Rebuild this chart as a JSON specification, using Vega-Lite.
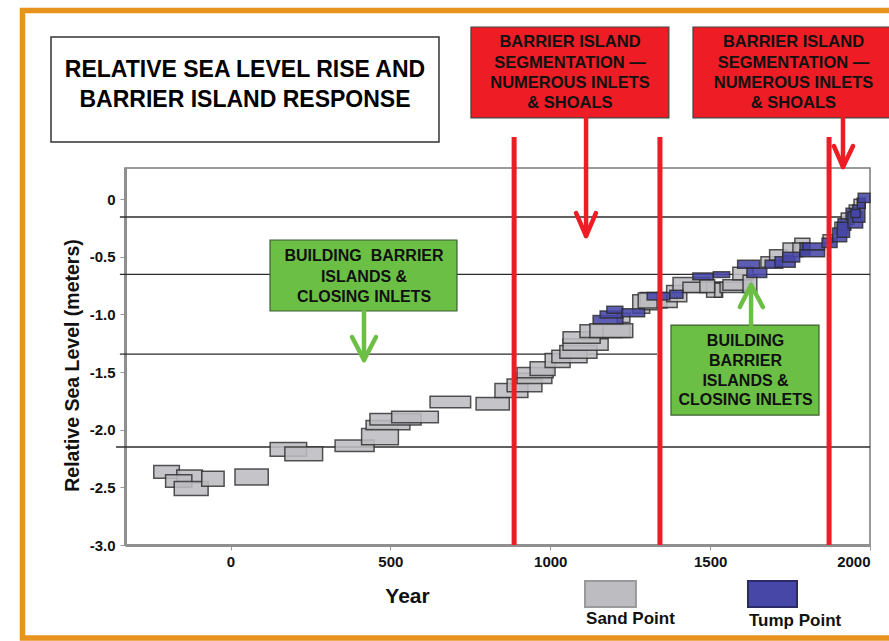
{
  "$schema": "https://vega.github.io/schema/vega-lite/v6.json",
  "width": 745,
  "height": 377,
  "autosize": {"type": "none"},
  "padding": {"left": 125, "top": 168, "right": 19, "bottom": 96},
  "background": "white",
  "config": {"view": {"stroke": "#7a7a7a", "strokeWidth": 1.5}, "font": "Liberation Sans"},
  "datasets": {
    "pts": [
      {"x": -240, "x2": -160, "y": -2.42, "y2": -2.31, "type": "Sand Point"},
      {"x": -168, "x2": -88, "y": -2.46, "y2": -2.35, "type": "Sand Point"},
      {"x": -203, "x2": -121, "y": -2.50, "y2": -2.39, "type": "Sand Point"},
      {"x": -176, "x2": -70, "y": -2.57, "y2": -2.45, "type": "Sand Point"},
      {"x": -90, "x2": -20, "y": -2.49, "y2": -2.36, "type": "Sand Point"},
      {"x": 14, "x2": 118, "y": -2.48, "y2": -2.34, "type": "Sand Point"},
      {"x": 124, "x2": 238, "y": -2.23, "y2": -2.11, "type": "Sand Point"},
      {"x": 170, "x2": 288, "y": -2.27, "y2": -2.15, "type": "Sand Point"},
      {"x": 327, "x2": 449, "y": -2.19, "y2": -2.09, "type": "Sand Point"},
      {"x": 410, "x2": 525, "y": -2.13, "y2": -1.99, "type": "Sand Point"},
      {"x": 424, "x2": 561, "y": -2.00, "y2": -1.92, "type": "Sand Point"},
      {"x": 436, "x2": 596, "y": -1.96, "y2": -1.86, "type": "Sand Point"},
      {"x": 504, "x2": 650, "y": -1.94, "y2": -1.84, "type": "Sand Point"},
      {"x": 624, "x2": 751, "y": -1.81, "y2": -1.71, "type": "Sand Point"},
      {"x": 768, "x2": 872, "y": -1.83, "y2": -1.72, "type": "Sand Point"},
      {"x": 827, "x2": 930, "y": -1.72, "y2": -1.60, "type": "Sand Point"},
      {"x": 865, "x2": 974, "y": -1.67, "y2": -1.56, "type": "Sand Point"},
      {"x": 896, "x2": 1005, "y": -1.60, "y2": -1.51, "type": "Sand Point"},
      {"x": 896, "x2": 1009, "y": -1.55, "y2": -1.46, "type": "Sand Point"},
      {"x": 937, "x2": 1015, "y": -1.53, "y2": -1.41, "type": "Sand Point"},
      {"x": 984, "x2": 1062, "y": -1.46, "y2": -1.34, "type": "Sand Point"},
      {"x": 1005, "x2": 1115, "y": -1.42, "y2": -1.31, "type": "Sand Point"},
      {"x": 1030, "x2": 1146, "y": -1.38, "y2": -1.27, "type": "Sand Point"},
      {"x": 1040, "x2": 1181, "y": -1.31, "y2": -1.21, "type": "Sand Point"},
      {"x": 1040, "x2": 1156, "y": -1.25, "y2": -1.15, "type": "Sand Point"},
      {"x": 1093, "x2": 1224, "y": -1.20, "y2": -1.09, "type": "Sand Point"},
      {"x": 1165, "x2": 1249, "y": -1.20, "y2": -1.09, "type": "Sand Point"},
      {"x": 1124, "x2": 1258, "y": -1.20, "y2": -1.08, "type": "Sand Point"},
      {"x": 1209, "x2": 1249, "y": -1.07, "y2": -0.99, "type": "Sand Point"},
      {"x": 1258, "x2": 1311, "y": -0.99, "y2": -0.83, "type": "Sand Point"},
      {"x": 1281, "x2": 1343, "y": -0.96, "y2": -0.81, "type": "Sand Point"},
      {"x": 1275, "x2": 1365, "y": -0.945, "y2": -0.815, "type": "Sand Point"},
      {"x": 1334, "x2": 1397, "y": -0.94, "y2": -0.81, "type": "Sand Point"},
      {"x": 1364, "x2": 1427, "y": -0.89, "y2": -0.75, "type": "Sand Point"},
      {"x": 1384, "x2": 1499, "y": -0.81, "y2": -0.68, "type": "Sand Point"},
      {"x": 1415, "x2": 1531, "y": -0.81, "y2": -0.72, "type": "Sand Point"},
      {"x": 1489, "x2": 1539, "y": -0.85, "y2": -0.72, "type": "Sand Point"},
      {"x": 1514, "x2": 1536, "y": -0.85, "y2": -0.73, "type": "Sand Point"},
      {"x": 1468, "x2": 1514, "y": -0.81, "y2": -0.70, "type": "Sand Point"},
      {"x": 1531, "x2": 1603, "y": -0.81, "y2": -0.72, "type": "Sand Point"},
      {"x": 1540, "x2": 1630, "y": -0.79, "y2": -0.70, "type": "Sand Point"},
      {"x": 1571, "x2": 1634, "y": -0.70, "y2": -0.59, "type": "Sand Point"},
      {"x": 1603, "x2": 1646, "y": -0.81, "y2": -0.66, "type": "Sand Point"},
      {"x": 1659, "x2": 1718, "y": -0.59, "y2": -0.50, "type": "Sand Point"},
      {"x": 1686, "x2": 1740, "y": -0.53, "y2": -0.44, "type": "Sand Point"},
      {"x": 1728, "x2": 1781, "y": -0.49, "y2": -0.38, "type": "Sand Point"},
      {"x": 1765, "x2": 1812, "y": -0.46, "y2": -0.34, "type": "Sand Point"},
      {"x": 1759, "x2": 1790, "y": -0.50, "y2": -0.38, "type": "Sand Point"},
      {"x": 1853, "x2": 1884, "y": -0.38, "y2": -0.31, "type": "Sand Point"},
      {"x": 1890, "x2": 1930, "y": -0.30, "y2": -0.20, "type": "Sand Point"},
      {"x": 1910, "x2": 1950, "y": -0.22, "y2": -0.12, "type": "Sand Point"},
      {"x": 1935, "x2": 1970, "y": -0.15, "y2": -0.05, "type": "Sand Point"},
      {"x": 1950, "x2": 1985, "y": -0.08, "y2": 0.0, "type": "Sand Point"},
      {"x": 1134, "x2": 1227, "y": -1.08, "y2": -1.01, "type": "Tump Point"},
      {"x": 1156, "x2": 1227, "y": -1.03, "y2": -0.97, "type": "Tump Point"},
      {"x": 1177, "x2": 1227, "y": -0.99, "y2": -0.93, "type": "Tump Point"},
      {"x": 1224, "x2": 1295, "y": -1.02, "y2": -0.95, "type": "Tump Point"},
      {"x": 1303, "x2": 1374, "y": -0.875, "y2": -0.81, "type": "Tump Point"},
      {"x": 1374, "x2": 1415, "y": -0.86, "y2": -0.79, "type": "Tump Point"},
      {"x": 1446, "x2": 1510, "y": -0.70, "y2": -0.64, "type": "Tump Point"},
      {"x": 1510, "x2": 1561, "y": -0.68, "y2": -0.63, "type": "Tump Point"},
      {"x": 1586, "x2": 1655, "y": -0.60, "y2": -0.53, "type": "Tump Point"},
      {"x": 1615, "x2": 1677, "y": -0.68, "y2": -0.60, "type": "Tump Point"},
      {"x": 1672, "x2": 1727, "y": -0.60, "y2": -0.53, "type": "Tump Point"},
      {"x": 1703, "x2": 1766, "y": -0.59, "y2": -0.50, "type": "Tump Point"},
      {"x": 1727, "x2": 1780, "y": -0.545, "y2": -0.46, "type": "Tump Point"},
      {"x": 1781, "x2": 1812, "y": -0.485, "y2": -0.38, "type": "Tump Point"},
      {"x": 1781, "x2": 1858, "y": -0.50, "y2": -0.44, "type": "Tump Point"},
      {"x": 1790, "x2": 1858, "y": -0.44, "y2": -0.38, "type": "Tump Point"},
      {"x": 1850, "x2": 1897, "y": -0.42, "y2": -0.34, "type": "Tump Point"},
      {"x": 1883, "x2": 1927, "y": -0.37, "y2": -0.25, "type": "Tump Point"},
      {"x": 1900, "x2": 1940, "y": -0.27, "y2": -0.17, "type": "Tump Point"},
      {"x": 1897, "x2": 1936, "y": -0.33, "y2": -0.20, "type": "Tump Point"},
      {"x": 1925, "x2": 1960, "y": -0.18, "y2": -0.08, "type": "Tump Point"},
      {"x": 1931, "x2": 1977, "y": -0.25, "y2": -0.11, "type": "Tump Point"},
      {"x": 1946, "x2": 1984, "y": -0.20, "y2": -0.05, "type": "Tump Point"},
      {"x": 1940, "x2": 1969, "y": -0.16, "y2": -0.09, "type": "Tump Point"},
      {"x": 1960, "x2": 1985, "y": -0.08, "y2": 0.01, "type": "Tump Point"},
      {"x": 1963, "x2": 2000, "y": -0.03, "y2": 0.05, "type": "Tump Point"}
    ],
    "hlines": [
      {"x": -346, "x2": 1928, "y": -0.155},
      {"x": -346, "x2": 2000, "y": -0.652},
      {"x": -346, "x2": 1334, "y": -1.344},
      {"x": -358, "x2": 2000, "y": -2.15}
    ],
    "frame": [{"x": -650.6, "x2": 2100, "y": 1.636, "y2": -3.807}],
    "redlines": [
      {"x": 887, "x2": 887, "y": 0.539, "y2": -3.0},
      {"x": 1343, "x2": 1343, "y": 0.539, "y2": -3.0},
      {"x": 1872, "x2": 1872, "y": 0.539, "y2": -3.0}
    ],
    "redarrows": [
      {"x": 1112, "x2": 1112, "y": 0.704, "y2": -0.30},
      {"x": 1080.5, "x2": 1112, "y": -0.12, "y2": -0.32},
      {"x": 1143, "x2": 1112, "y": -0.12, "y2": -0.32},
      {"x": 1915.5, "x2": 1915.5, "y": 0.704, "y2": 0.29},
      {"x": 1887, "x2": 1915.5, "y": 0.461, "y2": 0.279},
      {"x": 1947, "x2": 1915.5, "y": 0.461, "y2": 0.279}
    ],
    "greenarrows": [
      {"x": 417.5, "x2": 417.5, "y": -0.9705, "y2": -1.38},
      {"x": 380, "x2": 417.5, "y": -1.196, "y2": -1.396},
      {"x": 455, "x2": 417.5, "y": -1.196, "y2": -1.396},
      {"x": 1628, "x2": 1628, "y": -1.092, "y2": -0.76},
      {"x": 1593, "x2": 1628, "y": -0.936, "y2": -0.745},
      {"x": 1665, "x2": 1628, "y": -0.936, "y2": -0.745}
    ],
    "redboxes": [
      {"x": 752, "x2": 1371, "y": 1.493, "y2": 0.704},
      {"x": 1446.4, "x2": 2120, "y": 1.493, "y2": 0.704}
    ],
    "greenboxes": [
      {"x": 123.5, "x2": 708.3, "y": -0.3546, "y2": -0.9705},
      {"x": 1377.6, "x2": 1840.5, "y": -1.092, "y2": -1.873}
    ],
    "titlebox": [{"x": -561.4, "x2": 652, "y": 1.406, "y2": 0.4956}],
    "titletext": [
      {"x": 45.3, "y": 1.12, "t": "RELATIVE SEA LEVEL RISE AND"},
      {"x": 45.3, "y": 0.86, "t": "BARRIER ISLAND RESPONSE"}
    ],
    "redtext": [
      {"x": 1061.7, "y": 1.359, "t": "BARRIER ISLAND"},
      {"x": 1061.7, "y": 1.181, "t": "SEGMENTATION —"},
      {"x": 1061.7, "y": 1.007, "t": "NUMEROUS INLETS"},
      {"x": 1061.7, "y": 0.834, "t": "& SHOALS"},
      {"x": 1760.7, "y": 1.359, "t": "BARRIER ISLAND"},
      {"x": 1760.7, "y": 1.181, "t": "SEGMENTATION —"},
      {"x": 1760.7, "y": 1.007, "t": "NUMEROUS INLETS"},
      {"x": 1760.7, "y": 0.834, "t": "& SHOALS"}
    ],
    "greentext": [
      {"x": 417.5, "y": -0.493, "t": "BUILDING\u00a0 BARRIER"},
      {"x": 417.5, "y": -0.6756, "t": "ISLANDS &"},
      {"x": 417.5, "y": -0.849, "t": "CLOSING INLETS"},
      {"x": 1610.6, "y": -1.231, "t": "BUILDING"},
      {"x": 1610.6, "y": -1.404, "t": "BARRIER"},
      {"x": 1610.6, "y": -1.578, "t": "ISLANDS &"},
      {"x": 1610.6, "y": -1.743, "t": "CLOSING INLETS"}
    ],
    "legendsw": [
      {"x": 1108.7, "x2": 1268, "y": -3.313, "y2": -3.538, "type": "Sand Point"},
      {"x": 1618.4, "x2": 1771.7, "y": -3.313, "y2": -3.538, "type": "Tump Point"}
    ],
    "legendtext": [
      {"x": 1112, "y": -3.686, "t": "Sand Point"},
      {"x": 1621.5, "y": -3.703, "t": "Tump Point"}
    ]
  },
  "encoding": {
    "x": {
      "field": "x", "type": "quantitative",
      "scale": {"domain": [-330, 2000], "nice": false, "zero": false},
      "axis": {
        "title": "Year", "values": [0, 500, 1000, 1500, 2000], "format": "d",
        "grid": false, "labelFont": "Liberation Sans", "labelFontWeight": "bold", "labelFontSize": 15,
        "labelColor": "#111", "tickColor": "#999", "tickSize": 5, "labelPadding": 4,
        "domainColor": "#8f8f8f", "domainWidth": 3,
        "titleFont": "Liberation Sans", "titleFontSize": 21, "titleFontWeight": "bold", "titleColor": "#111",
        "titleX": 282, "titleY": 57, "titleBaseline": "alphabetic", "titleAlign": "center"
      }
    },
    "y": {
      "field": "y", "type": "quantitative",
      "scale": {"domain": [-3.0, 0.27], "nice": false, "zero": false},
      "axis": {
        "title": "Relative Sea Level (meters)", "values": [-3, -2.5, -2, -1.5, -1, -0.5, 0],
        "labelExpr": "datum.value == 0 ? '0' : (datum.value < 0 ? '-' : '') + format(abs(datum.value), '.1f')",
        "grid": false, "labelFont": "Liberation Sans", "labelFontWeight": "bold", "labelFontSize": 15,
        "labelColor": "#111", "tickColor": "#999", "tickSize": 5, "labelPadding": 5,
        "domainColor": "#8f8f8f", "domainWidth": 3,
        "titleFont": "Liberation Sans", "titleFontSize": 19.5, "titleFontWeight": "bold", "titleColor": "#111",
        "titleX": -47, "titleY": 197, "titleAngle": -90, "titleBaseline": "alphabetic", "titleAlign": "center"
      }
    }
  },
  "layer": [
    {
      "data": {"name": "frame"},
      "mark": {"type": "rect", "filled": false, "stroke": "#E8931E", "strokeWidth": 5.5},
      "encoding": {"x2": {"field": "x2"}, "y2": {"field": "y2"}}
    },
    {
      "data": {"name": "hlines"},
      "mark": {"type": "rule", "color": "#2b2b2b", "strokeWidth": 1.3},
      "encoding": {"x2": {"field": "x2"}}
    },
    {
      "data": {"name": "pts"},
      "mark": {"type": "rect", "stroke": "#2a2a2a", "strokeWidth": 1.5, "strokeOpacity": 0.8, "fillOpacity": 0.88},
      "encoding": {
        "x2": {"field": "x2"}, "y2": {"field": "y2"},
        "fill": {"field": "type", "type": "nominal", "scale": {"domain": ["Sand Point", "Tump Point"], "range": ["#BDBCC0", "#4747A8"]}, "legend": null}
      }
    },
    {
      "data": {"name": "redlines"},
      "mark": {"type": "rule", "color": "#EE1C25", "strokeWidth": 5},
      "encoding": {"x2": {"field": "x2"}, "y2": {"field": "y2"}}
    },
    {
      "data": {"name": "greenboxes"},
      "mark": {"type": "rect", "fill": "#6CBF45", "stroke": "#3d5e33", "strokeWidth": 1.2},
      "encoding": {"x2": {"field": "x2"}, "y2": {"field": "y2"}}
    },
    {
      "data": {"name": "greenarrows"},
      "mark": {"type": "rule", "color": "#6CBF45", "strokeWidth": 4.5, "strokeCap": "round"},
      "encoding": {"x2": {"field": "x2"}, "y2": {"field": "y2"}}
    },
    {
      "data": {"name": "greentext"},
      "mark": {"type": "text", "font": "Liberation Sans", "fontWeight": "bold", "fontSize": 16, "color": "#111", "align": "center", "baseline": "middle"},
      "encoding": {"text": {"field": "t"}}
    },
    {
      "data": {"name": "redboxes"},
      "mark": {"type": "rect", "fill": "#EE1C25", "stroke": "#444", "strokeWidth": 1.2},
      "encoding": {"x2": {"field": "x2"}, "y2": {"field": "y2"}}
    },
    {
      "data": {"name": "redarrows"},
      "mark": {"type": "rule", "color": "#EE1C25", "strokeWidth": 4.5, "strokeCap": "round"},
      "encoding": {"x2": {"field": "x2"}, "y2": {"field": "y2"}}
    },
    {
      "data": {"name": "redtext"},
      "mark": {"type": "text", "font": "Liberation Sans", "fontWeight": "bold", "fontSize": 16.5, "color": "#111", "align": "center", "baseline": "middle"},
      "encoding": {"text": {"field": "t"}}
    },
    {
      "data": {"name": "titlebox"},
      "mark": {"type": "rect", "fill": "white", "stroke": "#333", "strokeWidth": 1.5},
      "encoding": {"x2": {"field": "x2"}, "y2": {"field": "y2"}}
    },
    {
      "data": {"name": "titletext"},
      "mark": {"type": "text", "font": "Liberation Sans", "fontWeight": "bold", "fontSize": 23, "color": "#000", "align": "center", "baseline": "middle"},
      "encoding": {"text": {"field": "t"}}
    },
    {
      "data": {"name": "legendsw"},
      "mark": {"type": "rect", "strokeWidth": 2},
      "encoding": {
        "x2": {"field": "x2"}, "y2": {"field": "y2"},
        "fill": {"field": "type", "type": "nominal", "legend": null},
        "stroke": {"field": "type", "type": "nominal", "scale": {"domain": ["Sand Point", "Tump Point"], "range": ["#9a9a9a", "#2a2a6a"]}, "legend": null}
      }
    },
    {
      "data": {"name": "legendtext"},
      "mark": {"type": "text", "font": "Liberation Sans", "fontWeight": "bold", "fontSize": 17, "color": "#111", "align": "left", "baseline": "alphabetic"},
      "encoding": {"text": {"field": "t"}}
    }
  ]
}
